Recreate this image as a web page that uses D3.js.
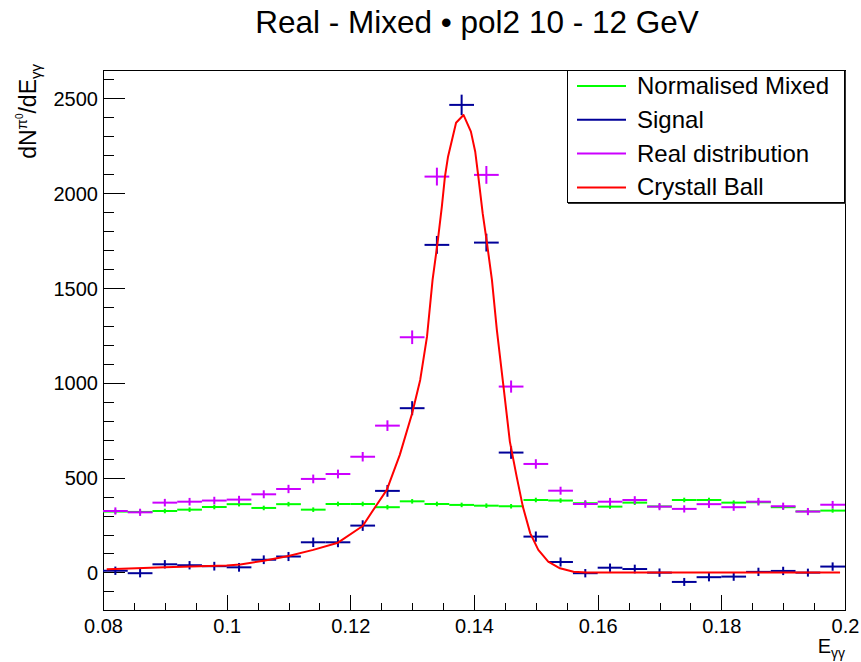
<!DOCTYPE html>
<html>
<head>
<meta charset="utf-8">
<script src="https://cdn.jsdelivr.net/npm/d3@7"></script>
<style>
  html, body { margin: 0; padding: 0; background: #fff; }
  text { font-family: "Liberation Sans", Arial, Helvetica, sans-serif; }
</style>
</head>
<body>
<svg id="chart" width="861" height="662"></svg>
<script>
// ---------------- data ----------------
const binCenters = [0.082, 0.086, 0.090, 0.094, 0.098, 0.102, 0.106, 0.110, 0.114, 0.118,
                    0.122, 0.126, 0.130, 0.134, 0.138, 0.142, 0.146, 0.150, 0.154, 0.158,
                    0.162, 0.166, 0.170, 0.174, 0.178, 0.182, 0.186, 0.190, 0.194, 0.198];
const binHalfWidth = 0.002;

const mixedValues = [321, 319, 324, 331, 345, 360, 340, 360, 331, 361,
                     361, 344, 375, 361, 356, 352, 349, 382, 379, 365,
                     347, 368, 348, 382, 382, 368, 370, 344, 322, 326];
const mixedErrors = [11, 11, 12, 12, 12, 12, 12, 12, 12, 12,
                     12, 12, 12, 12, 12, 12, 12, 12, 12, 12,
                     12, 12, 12, 12, 12, 12, 12, 12, 11, 11];

const signalValues = [9, -4, 43, 38, 33, 27, 67, 84, 159, 159,
                      247, 430, 866, 1727, 2465, 1739, 632, 189, 55, -4,
                      25, 18, -1, -50, -25, -22, 3, 8, -1, 31];
const signalErrors = [22, 22, 22, 22, 23, 23, 23, 24, 25, 26,
                      28, 31, 37, 47, 54, 47, 33, 27, 24, 22,
                      22, 23, 22, 21, 22, 22, 22, 22, 21, 22];

const realValues = [324, 317, 368, 373, 379, 384, 412, 440, 493, 519,
                    610, 774, 1240, 2087, 2823, 2096, 980, 572, 431, 361,
                    373, 382, 347, 335, 360, 344, 373, 349, 321, 357];
const realErrors = [19, 19, 20, 20, 20, 20, 21, 22, 23, 23,
                    25, 28, 36, 47, 54, 47, 32, 25, 21, 20,
                    20, 20, 19, 19, 20, 19, 20, 19, 19, 20];

// Crystal Ball fit curve
const cbX = [0.0806, 0.0819, 0.0900, 0.1000, 0.1022, 0.1060, 0.1100, 0.1140, 0.1180, 0.1220,
             0.1240, 0.1259, 0.1280, 0.1300, 0.1313, 0.1324, 0.1333, 0.1341, 0.1348, 0.1353,
             0.1358, 0.1371, 0.1383, 0.1395, 0.1402, 0.1407, 0.1414, 0.1421, 0.1429, 0.1437,
             0.1447, 0.1458, 0.1469, 0.1479, 0.1491, 0.1504, 0.1520, 0.1539, 0.1561, 0.1582,
             0.1604, 0.1992];
const cbY = [17, 18, 27, 37, 42, 62, 87, 119, 157, 245,
             344, 435, 620, 839, 1015, 1243, 1542, 1736, 1929, 2087,
             2192, 2371, 2412, 2324, 2218, 2087, 1894, 1736, 1542, 1278,
             1000, 690, 505, 347, 206, 119, 57, 22, 4, 0,
             0, 0];

const xTicks = [0.08, 0.10, 0.12, 0.14, 0.16, 0.18, 0.20];
const xTickLabels = ["0.08", "0.1", "0.12", "0.14", "0.16", "0.18", "0.2"];
const yTicks = [0, 500, 1000, 1500, 2000, 2500];
const yTickLabels = ["0", "500", "1000", "1500", "2000", "2500"];

const titleText = "Real - Mixed \u2022 pol2 10 - 12 GeV";
const legendLabels = ["Normalised Mixed", "Signal", "Real distribution", "Crystall Ball"];
const legendColors = ["#00ff00", "#000099", "#cc00ff", "#ff0000"];

// ---------------- layout ----------------
const frame = {left: 103, right: 845, top: 70, bottom: 610};
const svg = d3.select("#chart");
svg.append("rect").attr("width", 861).attr("height", 662).attr("fill", "#fff");

const x = d3.scaleLinear().domain([0.08, 0.2]).range([frame.left, frame.right]);
const y = d3.scaleLinear().domain([-198, 2649]).range([frame.bottom, frame.top]);

svg.append("defs").append("clipPath").attr("id", "clip")
  .append("rect").attr("x", frame.left).attr("y", frame.top)
  .attr("width", frame.right - frame.left).attr("height", frame.bottom - frame.top);

// title
svg.append("text").attr("x", 477).attr("y", 33).attr("text-anchor", "middle")
  .attr("font-size", 31.5).attr("fill", "#000").text(titleText);

// axes
const gx = svg.append("g").attr("transform", `translate(0,${frame.bottom})`);
gx.call(d3.axisBottom(x).tickValues(d3.range(0.085, 0.2, 0.005)).tickSizeInner(-7.5).tickSizeOuter(0).tickFormat(""));
gx.append("g").call(d3.axisBottom(x).tickValues(xTicks).tickSizeInner(-15).tickSizeOuter(0).tickPadding(9)
  .tickFormat((d, i) => xTickLabels[i]));
gx.selectAll(".domain").remove();
gx.selectAll("line").attr("stroke", "#000").attr("shape-rendering", "crispEdges");
gx.selectAll("text").attr("font-size", 20).attr("fill", "#000")
  .attr("font-family", "'Liberation Sans', Arial, Helvetica, sans-serif");

const gy = svg.append("g").attr("transform", `translate(${frame.left},0)`);
gy.call(d3.axisLeft(y).tickValues(d3.range(-100, 2700, 100)).tickSizeInner(-11).tickSizeOuter(0).tickFormat(""));
gy.append("g").call(d3.axisLeft(y).tickValues(yTicks).tickSizeInner(-22).tickSizeOuter(0).tickPadding(5)
  .tickFormat((d, i) => yTickLabels[i]));
gy.selectAll(".domain").remove();
gy.selectAll("line").attr("stroke", "#000").attr("shape-rendering", "crispEdges");
gy.selectAll("text").attr("font-size", 20).attr("fill", "#000").attr("dy", "0.36em")
  .attr("font-family", "'Liberation Sans', Arial, Helvetica, sans-serif");

// frame
svg.append("rect").attr("x", frame.left + 0.5).attr("y", frame.top + 0.5)
  .attr("width", frame.right - frame.left).attr("height", frame.bottom - frame.top)
  .attr("fill", "none").attr("stroke", "#000").attr("stroke-width", 1);

// axis titles
const yt = svg.append("text").attr("transform", "translate(36,64) rotate(-90)")
  .attr("text-anchor", "end").attr("font-size", 23).attr("fill", "#000");
yt.append("tspan").text("dN");
yt.append("tspan").attr("font-size", 15).attr("dy", -9).text("\u03c0");
yt.append("tspan").attr("font-size", 10).attr("dy", -4).text("0");
yt.append("tspan").attr("dy", 13).text("/dE");
yt.append("tspan").attr("font-size", 15).attr("dy", 5).text("\u03b3\u03b3");

const xt = svg.append("text").attr("x", 845).attr("y", 653).attr("text-anchor", "end")
  .attr("font-size", 20).attr("fill", "#000");
xt.append("tspan").text("E");
xt.append("tspan").attr("font-size", 14).attr("dy", 5).text("\u03b3\u03b3");

// data
const plot = svg.append("g").attr("clip-path", "url(#clip)");

function drawHist(values, errors, color) {
  const g = plot.append("g").attr("stroke", color).attr("stroke-width", 2).attr("fill", "none");
  const pts = binCenters.map((c, i) => ({c, v: values[i], e: errors[i]}));
  g.selectAll("line.h").data(pts).join("line").attr("class", "h")
    .attr("x1", d => x(d.c - binHalfWidth)).attr("x2", d => x(d.c + binHalfWidth))
    .attr("y1", d => y(d.v)).attr("y2", d => y(d.v));
  g.selectAll("line.v").data(pts).join("line").attr("class", "v")
    .attr("x1", d => x(d.c)).attr("x2", d => x(d.c))
    .attr("y1", d => y(d.v - d.e)).attr("y2", d => y(d.v + d.e));
}
drawHist(mixedValues, mixedErrors, legendColors[0]);
drawHist(signalValues, signalErrors, legendColors[1]);
drawHist(realValues, realErrors, legendColors[2]);

const line = d3.line().x((d, i) => x(cbX[i])).y(d => y(d));
plot.append("path").datum(cbY).attr("d", line).attr("fill", "none")
  .attr("stroke", legendColors[3]).attr("stroke-width", 2).attr("stroke-linejoin", "round");

// legend
const lg = svg.append("g");
lg.append("rect").attr("x", 567.5).attr("y", 70.5).attr("width", 277).attr("height", 132)
  .attr("fill", "#fff").attr("stroke", "#000").attr("stroke-width", 1);
lg.append("line").attr("x1", 568).attr("x2", 846).attr("y1", 203.5).attr("y2", 203.5).attr("stroke", "#333");
lg.append("line").attr("x1", 845.5).attr("x2", 845.5).attr("y1", 71).attr("y2", 204).attr("stroke", "#333");
legendLabels.forEach((lab, i) => {
  const yy = 86 + i * 33.8;
  lg.append("line").attr("x1", 577).attr("x2", 626).attr("y1", yy).attr("y2", yy)
    .attr("stroke", legendColors[i]).attr("stroke-width", 2);
  lg.append("text").attr("x", 637).attr("y", yy + 8).attr("font-size", 24).attr("fill", "#000").text(lab);
});
</script>
</body>
</html>
